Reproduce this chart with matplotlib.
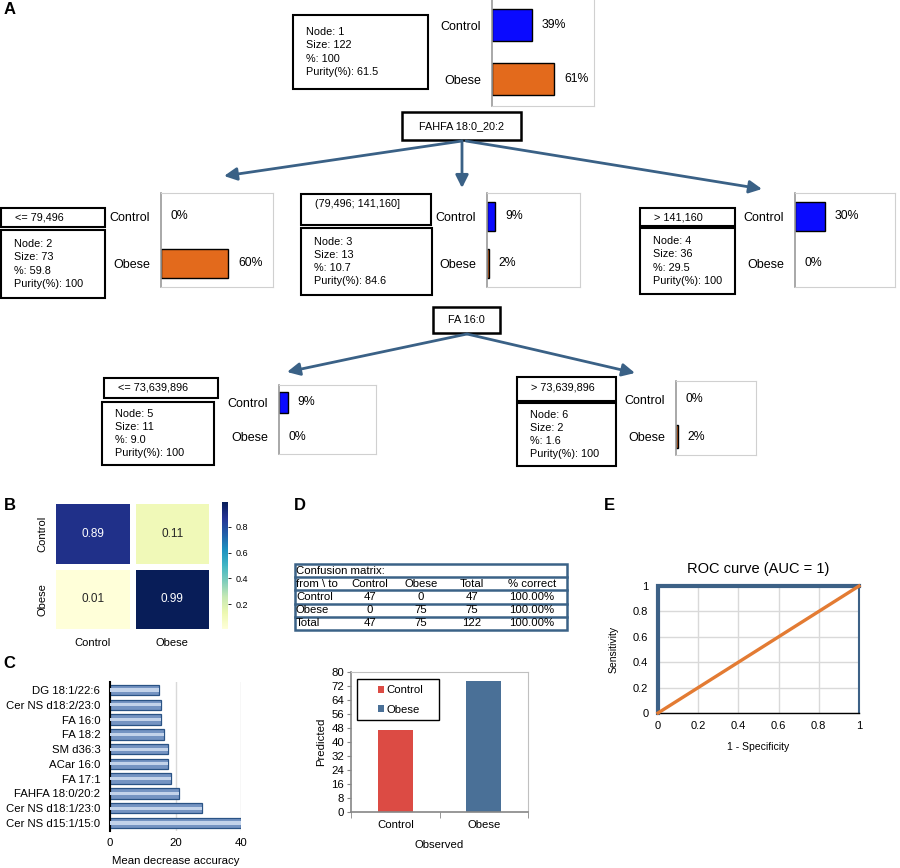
import matplotlib
matplotlib.use('Agg')
import matplotlib.pyplot as plt
from matplotlib.patches import Rectangle, FancyArrowPatch
import numpy as np
import seaborn as sns

plt.rcParams['font.family'] = ['Liberation Sans', 'DejaVu Sans']

# ---- data ----
classes = ['Control', 'Obese']
class_colors = ['#0a0aff', '#e36a1c']

node_ids = [1, 2, 3, 4, 5, 6]
node_sizes = [122, 73, 13, 36, 11, 2]
node_share = ['100', '59.8', '10.7', '29.5', '9.0', '1.6']
node_purity = ['61.5', '100', '84.6', '100', '100', '100']
control_pct = [39, 0, 9, 30, 9, 0]
obese_pct = [61, 60, 2, 0, 0, 2]
split_rules = [None, '<= 79,496', '(79,496; 141,160]', '> 141,160',
               '<= 73,639,896', '> 73,639,896']
split_vars = ['FAHFA 18:0_20:2', 'FA 16:0']

heat_values = [[0.89, 0.11], [0.01, 0.99]]

features = ['DG 18:1/22:6', 'Cer NS d18:2/23:0', 'FA 16:0', 'FA 18:2', 'SM d36:3',
            'ACar 16:0', 'FA 17:1', 'FAHFA 18:0/20:2', 'Cer NS d18:1/23:0',
            'Cer NS d15:1/15:0']
importance = [15.1, 15.5, 15.5, 16.4, 17.6, 17.8, 18.6, 21.1, 28.0, 40.0]

cm_title = 'Confusion matrix:'
cm_header = ['from \\ to', 'Control', 'Obese', 'Total', '% correct']
cm_labels = ['Control', 'Obese', 'Total']
cm_control = [47, 0, 47]
cm_obese = [0, 75, 75]
cm_total = [47, 75, 122]
cm_correct = ['100.00%', '100.00%', '100.00%']

predicted_counts = [47, 75]
observed_colors = ['#dc4b44', '#4a7097']

roc_fpr = [0, 0, 1]
roc_tpr = [0, 1, 1]
chance = [0, 1]

# ---- layout (pixels, top-left origin) ----
W, H = 900, 868
fig = plt.figure(figsize=(W / 100, H / 100), dpi=100)


def px_axes(x0, y0, x1, y1):
    return fig.add_axes([x0 / W, 1 - y1 / H, (x1 - x0) / W, (y1 - y0) / H])


tree = fig.add_axes([0, 0, 1, 1])
tree.set_xlim(0, W)
tree.set_ylim(H, 0)
tree.axis('off')

info_boxes = [(293, 15, 428, 89), (1, 230, 105, 298), (301, 228, 432, 295),
              (640, 228, 735, 294), (102, 402, 214, 465), (517, 403, 616, 466)]
rule_boxes = [None, (1, 208, 105, 227), (301, 194, 431, 225), (640, 208, 735, 226),
              (104, 378, 218, 398), (517, 377, 616, 401)]
bar_panels = [(492, -2, 594, 106), (161, 193, 273, 287), (487, 193, 580, 287),
              (795, 193, 895, 287), (279, 385, 376, 454), (676, 381, 756, 455)]
split_boxes = [(402, 112, 521, 140), (433, 307, 500, 333)]
arrows = [((462, 141), (224, 176)), ((462, 141), (462, 188)), ((466, 141), (762, 189)),
          ((467, 334), (287, 372)), ((467, 334), (635, 373))]

arrow_color = '#3a6186'

# panel A: tree
for (x0, y0, x1, y1), name in zip(split_boxes, split_vars):
    tree.add_patch(Rectangle((x0, y0), x1 - x0, y1 - y0, fc='white', ec='black', lw=1.8))
    tree.text((x0 + x1) / 2, (y0 + y1) / 2, name, ha='center', va='center', fontsize=7.8)

for a, b in arrows:
    tree.add_patch(FancyArrowPatch(a, b, arrowstyle='-|>', mutation_scale=19,
                                   color=arrow_color, lw=2, shrinkA=0, shrinkB=0))

for i in range(len(node_ids)):
    x0, y0, x1, y1 = info_boxes[i]
    tree.add_patch(Rectangle((x0, y0), x1 - x0, y1 - y0, fc='white', ec='black', lw=1.5))
    lines = [f'Node: {node_ids[i]}', f'Size: {node_sizes[i]}', f'%: {node_share[i]}',
             f'Purity(%): {node_purity[i]}']
    cy = (y0 + y1) / 2
    for k, line in enumerate(lines):
        tree.text(x0 + 13, cy + (k - 1.5) * 13.3, line, ha='left', va='center', fontsize=7.8)
    if rule_boxes[i] is not None:
        rx0, ry0, rx1, ry1 = rule_boxes[i]
        tree.add_patch(Rectangle((rx0, ry0), rx1 - rx0, ry1 - ry0, fc='white', ec='black', lw=1.5))
        tree.text(rx0 + 14, ry0 + 10, split_rules[i], ha='left', va='center', fontsize=7.8)

    ax = px_axes(*bar_panels[i])
    vals = [control_pct[i], obese_pct[i]]
    ax.barh([0, 1], vals, height=0.6, color=class_colors, edgecolor='black',
            linewidth=[1 if v > 0 else 0 for v in vals])
    for j, v in enumerate(vals):
        ax.annotate(f'{v}%', (v, j), xytext=(7, 0), textcoords='offset points',
                    va='center', ha='left', fontsize=8.8)
    ax.set_xlim(0, 100)
    ax.set_ylim(1.5, -0.5)
    ax.set_xticks([])
    ax.set_yticks([0, 1])
    ax.set_yticklabels(classes, fontsize=9)
    ax.tick_params(length=0, pad=8)
    for s in ['top', 'right', 'bottom']:
        ax.spines[s].set_color('#d0d0d0')
        ax.spines[s].set_linewidth(0.8)
    ax.spines['left'].set_color('#9a9a9a')
    ax.spines['left'].set_linewidth(1.2)

# panel B: normalised confusion heatmap
axb = px_axes(53, 501, 212, 632)
cax = px_axes(222, 502, 228, 629)
sns.heatmap(np.array(heat_values), annot=True, fmt='.2f', cmap='YlGnBu', linewidths=4,
            linecolor='white', xticklabels=classes, yticklabels=classes, ax=axb,
            cbar_ax=cax, annot_kws={'fontsize': 8.5})
axb.set_yticklabels(classes, rotation=90, va='center', fontsize=8)
axb.set_xticklabels(classes, rotation=0, fontsize=8)
axb.tick_params(length=0, pad=4)
cax.tick_params(labelsize=6.5, length=2, width=0.6)
cax.set_yticks([0.2, 0.4, 0.6, 0.8])

# panel C: variable importance
axc = px_axes(110, 682, 241, 831)
ypos = np.arange(len(features))
axc.barh(ypos, importance, height=0.7, color='#7594c2', edgecolor='#2a5385', linewidth=0.9, zorder=2)
axc.barh(ypos, importance, height=0.22, color='#c3d3ea', linewidth=0, zorder=3)
axc.set_ylim(len(features) - 0.45, -0.55)
axc.set_xlim(0, 40)
axc.set_xticks([0, 20, 40])
axc.set_yticks(ypos)
axc.set_yticklabels(features, fontsize=8.2)
axc.tick_params(axis='x', labelsize=8.2, length=0, pad=5)
axc.tick_params(axis='y', length=0, pad=7)
axc.grid(axis='x', color='#d9d9d9', lw=1, zorder=0)
axc.set_axisbelow(True)
for s in ['top', 'right', 'bottom']:
    axc.spines[s].set_visible(False)
axc.spines['left'].set_linewidth(1.5)
axc.set_xlabel('Mean decrease accuracy', fontsize=8.2, labelpad=6)

# panel D: confusion table
axt = px_axes(295, 564, 567, 630)
axt.set_xlim(0, 272)
axt.set_ylim(5, 0)
axt.axis('off')
tcol = '#3b6287'
axt.add_patch(Rectangle((0, 0), 272, 5, fill=False, ec=tcol, lw=1.8, clip_on=False))
for r in range(1, 5):
    axt.plot([0, 272], [r, r], color=tcol, lw=1.8, clip_on=False)
col_x = [22, 75, 126, 177, 237]
tfs = 8.2
axt.text(1, 0.5, cm_title, ha='left', va='center', fontsize=tfs)
for cx, h in zip(col_x, cm_header):
    axt.text(cx, 1.5, h, ha='center', va='center', fontsize=tfs)
for r in range(3):
    y = 2.5 + r
    axt.text(1, y, cm_labels[r], ha='left', va='center', fontsize=tfs)
    cells = [cm_control[r], cm_obese[r], cm_total[r], cm_correct[r]]
    for cx, v in zip(col_x[1:], cells):
        axt.text(cx, y, str(v), ha='center', va='center', fontsize=tfs)

# panel D: predicted vs observed bars
axd = px_axes(351, 672, 528, 812)
for k in range(2):
    axd.bar(k, predicted_counts[k], width=0.4, color=observed_colors[k], label=classes[k], zorder=2)
axd.set_xlim(-0.5, 1.5)
axd.set_ylim(0, 80)
axd.set_yticks(range(0, 81, 8))
axd.set_xticks([0, 1])
axd.set_xticklabels(classes)
axd.set_xticks([-0.5, 0.5, 1.5], minor=True)
axd.tick_params(axis='x', which='major', length=0, labelsize=8.2, pad=6)
axd.tick_params(axis='x', which='minor', length=4, color='#868686')
axd.tick_params(axis='y', length=3, color='#868686', labelsize=8.2, pad=2)
for s in ['left', 'bottom']:
    axd.spines[s].set_color('#868686')
    axd.spines[s].set_linewidth(1.2)
for s in ['top', 'right']:
    axd.spines[s].set_color('#c0c0c0')
    axd.spines[s].set_linewidth(0.8)
axd.set_ylabel('Predicted', fontsize=8.2, labelpad=4)
axd.set_xlabel('Observed', fontsize=8.2, labelpad=7)
axd.add_patch(Rectangle((0.034, 0.657), 0.463, 0.293, transform=axd.transAxes,
                        fc='white', ec='black', lw=1, zorder=4))
leg = axd.legend(loc='center', bbox_to_anchor=(0.28, 0.80), frameon=False, fontsize=8.2,
                 handlelength=0.6, handleheight=0.6, handletextpad=0.2, labelspacing=0.8)
leg.set_zorder(5)

# panel E: ROC
axe = px_axes(658, 586, 859, 713)
axe.plot(roc_fpr, roc_tpr, color='#3d6186', lw=3, clip_on=False, zorder=3,
         solid_joinstyle='miter')
axe.plot(chance, chance, color='#e37b33', lw=2.4, clip_on=False, zorder=4)
axe.set_xlim(0, 1)
axe.set_ylim(0, 1)
ticks = [0, 0.2, 0.4, 0.6, 0.8, 1]
axe.set_xticks(ticks)
axe.set_yticks(ticks)
axe.set_xticklabels([f'{t:g}' for t in ticks])
axe.set_yticklabels([f'{t:g}' for t in ticks])
axe.tick_params(length=0, labelsize=8)
axe.tick_params(axis='y', pad=7)
axe.tick_params(axis='x', pad=6)
axe.grid(color='#d9d9d9', lw=1)
axe.set_axisbelow(True)
axe.spines['top'].set_visible(False)
axe.spines['left'].set_visible(False)
axe.spines['right'].set_color('#3d6186')
axe.spines['right'].set_linewidth(1.5)
axe.spines['bottom'].set_linewidth(1)
axe.set_title('ROC curve (AUC = 1)', fontsize=10.5, pad=9)
axe.set_ylabel('Sensitivity', fontsize=7.5, labelpad=10)
axe.set_xlabel('1 - Specificity', fontsize=7.5, labelpad=8)

# panel letters
for letter, x, y in [('A', 4, 9), ('B', 4, 505), ('C', 3, 664), ('D', 294, 506), ('E', 604, 506)]:
    tree.text(x, y, letter, fontsize=12, fontweight='bold', ha='left', va='center')

fig.savefig('out.png', dpi=100)
